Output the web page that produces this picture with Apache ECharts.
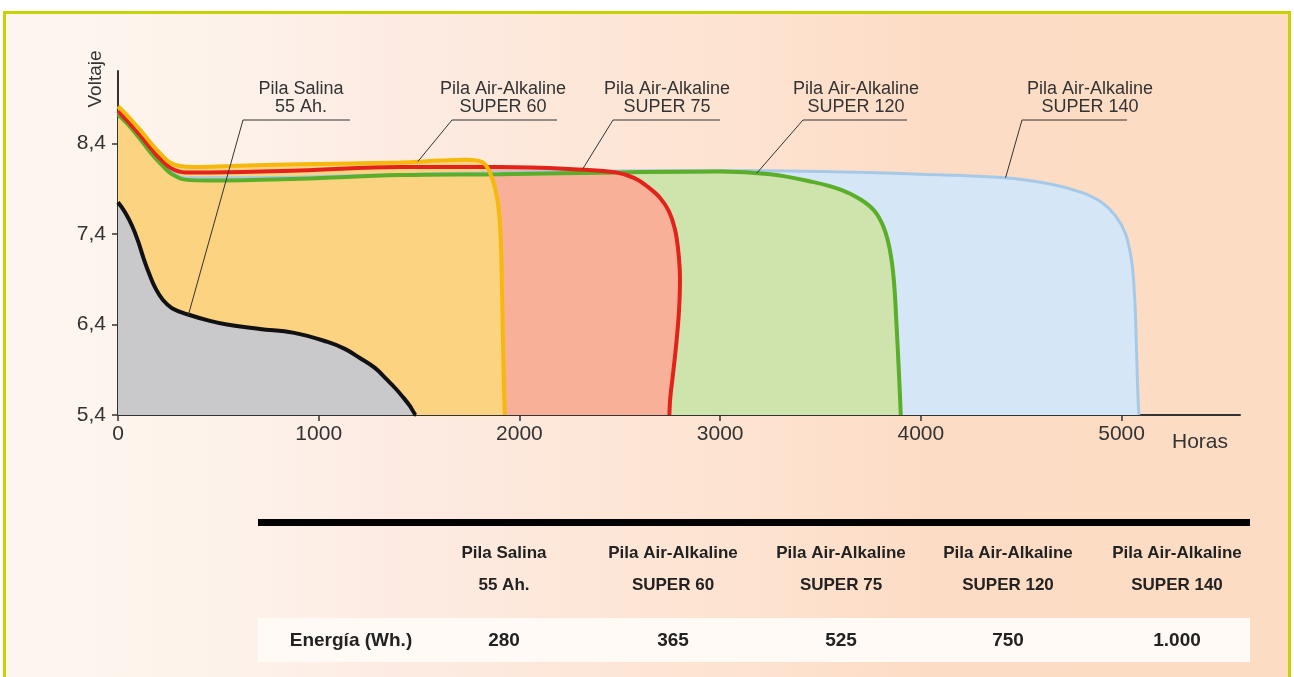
<!DOCTYPE html>
<html>
<head>
<meta charset="utf-8">
<script src="https://cdn.jsdelivr.net/npm/echarts@6/dist/echarts.min.js"></script>
<style>
html,body{margin:0;padding:0;background:#fff;width:1294px;height:677px;overflow:hidden}
#bg{position:absolute;left:3px;top:11px;width:1282px;height:700px;border:3px solid #c5d300;
background:linear-gradient(to right,#fdf6f0 0%,#fdf2ea 18%,#fdebe3 30%,#fde7d8 45%,#fde2cf 60%,#fddcc5 72%,#fddcc4 100%)}
#chart{position:absolute;left:0;top:0;width:1294px;height:677px}
</style>
</head>
<body>
<div id="bg"></div>
<div id="chart"></div>
<script>
// ---- data ----
const xTicks = [0, 1000, 2000, 3000, 4000, 5000];
const yTicks = [5.4, 6.4, 7.4, 8.4];

const seriesNames = ['Pila Salina 55 Ah.', 'Pila Air-Alkaline SUPER 60', 'Pila Air-Alkaline SUPER 75', 'Pila Air-Alkaline SUPER 120', 'Pila Air-Alkaline SUPER 140'];
const labelLine1 = ['Pila Salina', 'Pila Air-Alkaline', 'Pila Air-Alkaline', 'Pila Air-Alkaline', 'Pila Air-Alkaline'];
const labelLine2 = ['55 Ah.', 'SUPER 60', 'SUPER 75', 'SUPER 120', 'SUPER 140'];

// [hours, volts]
const salina = [[0,7.75],[35,7.64],[70,7.49],[100,7.32],[129,7.12],[159,6.94],[189,6.79],[224,6.67],[269,6.58],[349,6.51],[458,6.44],[543,6.40],[707,6.35],[872,6.31],[1041,6.21],[1130,6.13],[1205,6.03],[1280,5.92],[1340,5.79],[1384,5.69],[1419,5.60],[1454,5.50],[1479,5.41],[1485,5.4]];
const super60 = [[0,8.81],[50,8.70],[110,8.55],[169,8.39],[219,8.27],[259,8.19],[309,8.15],[383,8.14],[558,8.15],[906,8.17],[1404,8.19],[1604,8.21],[1728,8.22],[1793,8.21],[1833,8.16],[1863,8.02],[1882,7.87],[1897,7.67],[1907,7.34],[1912,6.90],[1917,6.34],[1922,5.79],[1927,5.4]];
const super75 = [[0,8.76],[50,8.64],[110,8.49],[169,8.33],[219,8.21],[269,8.12],[334,8.08],[458,8.08],[906,8.10],[1404,8.14],[1902,8.14],[2321,8.11],[2480,8.08],[2570,8.02],[2640,7.92],[2700,7.80],[2745,7.65],[2775,7.45],[2792,7.20],[2800,6.90],[2795,6.55],[2782,6.20],[2765,5.85],[2752,5.60],[2747,5.4]];
const super120 = [[0,8.72],[50,8.61],[110,8.45],[169,8.28],[219,8.16],[269,8.06],[334,8.00],[458,7.99],[906,8.01],[1404,8.05],[1902,8.06],[2500,8.08],[3000,8.09],[3250,8.06],[3450,7.98],[3600,7.89],[3700,7.78],[3770,7.65],[3815,7.47],[3845,7.23],[3865,6.90],[3880,6.34],[3890,5.90],[3900,5.4]];
const super140 = [[0,8.74],[50,8.63],[110,8.47],[169,8.30],[219,8.18],[269,8.08],[334,8.02],[906,8.03],[1902,8.08],[3000,8.10],[3500,8.09],[4000,8.06],[4420,8.02],[4650,7.95],[4800,7.86],[4900,7.75],[4970,7.60],[5020,7.40],[5050,7.10],[5065,6.70],[5073,6.23],[5080,5.70],[5086,5.4]];

// callout anchor points on each curve [hours, volts]
const calloutPoints = [[350,6.5],[1494,8.20],[2316,8.12],[3182,8.07],[4422,8.02]];

// table
const tableHeader1 = ['Pila Salina', 'Pila Air-Alkaline', 'Pila Air-Alkaline', 'Pila Air-Alkaline', 'Pila Air-Alkaline'];
const tableHeader2 = ['55 Ah.', 'SUPER 60', 'SUPER 75', 'SUPER 120', 'SUPER 140'];
const energyRowLabel = 'Energía (Wh.)';
const energyValues = ['280', '365', '525', '750', '1.000'];

// ---- chart ----
const FONT = "'Liberation Sans', Arial, sans-serif";
const chart = echarts.init(document.getElementById('chart'));

const styles = [
  {line:'#111111', fill:'#c9c9cb', w:4},
  {line:'#f6b80d', fill:'#fcd380', w:4},
  {line:'#e3221b', fill:'#f8b198', w:4},
  {line:'#5aae2a', fill:'#cfe3ad', w:4},
  {line:'#a7c9e8', fill:'#d5e7f7', w:3}
];
const datasets = [salina, super60, super75, super120, super140];

// draw order: back (SUPER 140) to front (Salina)
const series = [];
for (let i = datasets.length - 1; i >= 0; i--) {
  series.push({
    name: seriesNames[i],
    type: 'line',
    data: datasets[i],
    smooth: 0.4,
    showSymbol: false,
    symbol: 'none',
    lineStyle: {color: styles[i].line, width: styles[i].w},
    areaStyle: {color: styles[i].fill, opacity: 1, origin: 'start'},
    silent: true,
    animation: false
  });
}

chart.setOption({
  backgroundColor: 'transparent',
  animation: false,
  grid: {left: 118, right: 54, top: 71, bottom: 262, containLabel: false, outerBoundsMode: 'none'},
  xAxis: {
    type: 'value', min: 0, max: 5590,
    axisLine: {lineStyle: {color: '#333', width: 2}},
    axisTick: {show: true, customValues: xTicks, length: 6, lineStyle: {color: '#333', width: 1.5}},
    axisLabel: {customValues: xTicks, color: '#333', fontSize: 21, margin: 9, fontFamily: FONT,
      formatter: v => String(v)},
    splitLine: {show: false}
  },
  yAxis: {
    type: 'value', min: 5.4, max: 9.2,
    axisLine: {show: true, lineStyle: {color: '#333', width: 2}},
    axisTick: {show: true, customValues: yTicks, length: 6, lineStyle: {color: '#333', width: 1.5}},
    axisLabel: {customValues: yTicks, color: '#333', fontSize: 21, margin: 12, fontFamily: FONT,
      formatter: v => v.toFixed(1).replace('.', ',')},
    splitLine: {show: false}
  },
  series: series
});

// ---- annotations & table (graphic) ----
const calloutLayout = [
  {cx: 301, x0: 243, x1: 350},
  {cx: 503, x0: 452, x1: 557},
  {cx: 667, x0: 613, x1: 720},
  {cx: 856, x0: 803, x1: 907},
  {cx: 1090, x0: 1022, x1: 1127}
];
const txt = (x, y, text, size, extra) => Object.assign({type: 'text', x: x, y: y, z: 100,
  style: Object.assign({text: text, x: 0, y: 0, align: 'center', textAlign: 'center', verticalAlign: 'middle', textVerticalAlign: 'middle', fontSize: size, fontFamily: FONT, fill: '#333'}, extra || {})});

const g = [];
const vt = txt(96, 79, 'Voltaje', 19);
vt.rotation = Math.PI / 2;
g.push(vt);
g.push(txt(1172, 442, 'Horas', 21, {align: 'left', textAlign: 'left'}));

calloutPoints.forEach((p, i) => {
  const px = chart.convertToPixel({gridIndex: 0}, p);
  const L = calloutLayout[i];
  g.push({type: 'polyline', silent: true, z: 100,
    shape: {points: [[L.x1, 120], [L.x0, 120], px]},
    style: {stroke: '#333', lineWidth: 1, fill: null}});
  g.push(txt(L.cx, 89, labelLine1[i], 18));
  g.push(txt(L.cx, 107, labelLine2[i], 18));
});

// table
const colX = [504, 673, 841, 1008, 1177];
g.push({type: 'rect', shape: {x: 258, y: 519, width: 992, height: 7}, style: {fill: '#000'}});
g.push({type: 'rect', shape: {x: 258, y: 618, width: 992, height: 44}, style: {fill: '#fffaf6'}});
colX.forEach((cx, i) => {
  g.push(txt(cx, 553, tableHeader1[i], 17, {fontWeight: 'bold', fill: '#222'}));
  g.push(txt(cx, 585, tableHeader2[i], 17, {fontWeight: 'bold', fill: '#222'}));
  g.push(txt(cx, 641, energyValues[i], 19, {fontWeight: 'bold', fill: '#222'}));
});
g.push(txt(351, 641, energyRowLabel, 19, {fontWeight: 'bold', fill: '#222'}));

chart.setOption({graphic: {elements: g}});
</script>
</body>
</html>
